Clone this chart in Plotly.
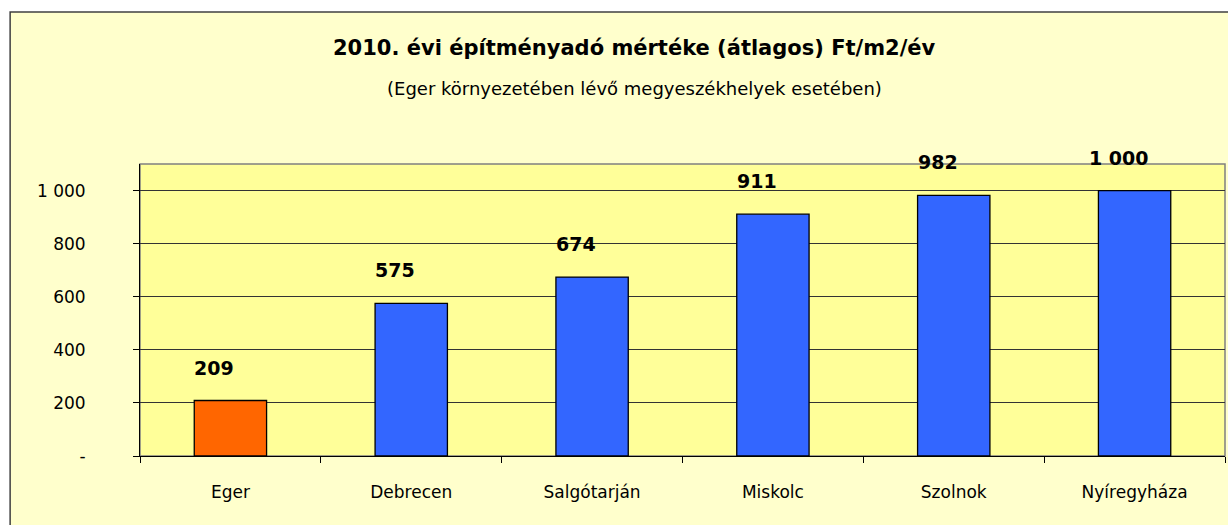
import plotly.graph_objects as go

varosok = ['Eger', 'Debrecen', 'Salgótarján', 'Miskolc', 'Szolnok', 'Nyíregyháza']
adomertek = [209, 575, 674, 911, 982, 1000]
szinek = ['#FF6600', '#3366FF', '#3366FF', '#3366FF', '#3366FF', '#3366FF']
y_tickek = [0, 200, 400, 600, 800, 1000]
y_feliratok = ['-', '200', '400', '600', '800', '1 000']

betu = 'Comic Sans MS, DejaVu Sans, sans-serif'

fig = go.Figure()

fig.add_trace(go.Bar(
    x=varosok,
    y=adomertek,
    marker=dict(color=szinek, line=dict(color='black', width=1.3)),
    hoverinfo='x+y',
))

# adatcimkek a rudak folott, kicsit balra tolva (mint az Excelben)
for v, a in zip(varosok, adomertek):
    fig.add_annotation(
        x=v, y=a, text=f'{a:,}'.replace(',', ' '),
        showarrow=False, yshift=33, xshift=-16,
        font=dict(family=betu, size=19, color='black', weight='bold'),
    )

fig.add_annotation(
    text='2010. évi építményadó mértéke (átlagos) Ft/m2/év',
    xref='paper', yref='paper', x=0.456, y=1.397, xanchor='center', yanchor='middle',
    showarrow=False, font=dict(family=betu, size=21, color='black', weight='bold'),
)
fig.add_annotation(
    text='(Eger környezetében lévő megyeszékhelyek esetében)',
    xref='paper', yref='paper', x=0.456, y=1.260, xanchor='center', yanchor='middle',
    showarrow=False, font=dict(family=betu, size=18, color='black'),
)

# kulso keret es a rajzterulet hattere
fig.add_shape(type='rect', xref='paper', yref='paper', layer='below',
              x0=-0.1197, x1=1.2, y0=-0.4, y1=1.5205,
              fillcolor='#FFFFCC', line=dict(color='#404040', width=1.5))
fig.add_shape(type='rect', xref='paper', yref='paper', layer='below',
              x0=0, x1=1, y0=0, y1=1,
              fillcolor='#FFFF99', line=dict(color='#808080', width=1.5))

fig.update_layout(
    width=1228,
    height=525,
    margin=dict(l=140, r=3, t=164, b=69),
    paper_bgcolor='white',
    plot_bgcolor='rgba(0,0,0,0)',
    bargap=0.6,
    showlegend=False,
    font=dict(family=betu, size=17, color='black'),
    xaxis=dict(
        showline=True, linecolor='black', linewidth=1,
        ticks='outside', ticklen=6, tickcolor='black',
        tickson='boundaries', ticklabelstandoff=21,
        showgrid=False,
    ),
    yaxis=dict(
        range=[0, 1100],
        tickvals=y_tickek, ticktext=y_feliratok,
        showline=True, linecolor='black', linewidth=1,
        ticks='outside', ticklen=6, tickcolor='black',
        ticklabelstandoff=44,
        showgrid=True, gridcolor='#333333', gridwidth=1,
        zeroline=False,
    ),
)

# a lap alapertelmezett 8 px-es margojat kinullazzuk
fig.write_html('out.html', config={'displayModeBar': False},
               post_script="document.body.style.margin='0';document.body.style.overflow='hidden';")
